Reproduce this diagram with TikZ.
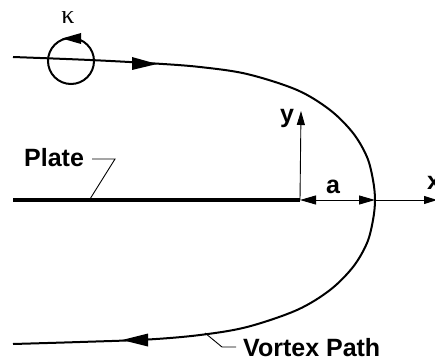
\documentclass[tikz,border=0pt]{standalone}
\usepackage{fontspec}
\setmainfont{Liberation Sans}
\newfontfamily\greekfont{Liberation Serif}
\usetikzlibrary{arrows.meta}
\begin{document}
\begin{tikzpicture}[x=1pt,y=-1pt,
  lbl/.style={font=\fontsize{25}{27}\selectfont\bfseries, inner sep=0pt, anchor=base west},
  pathline/.style={line width=2pt, line join=round},
  thinline/.style={line width=0.9pt},
  tip/.style={fill=black}]
\useasboundingbox (0,0) rectangle (435,358);
\clip (0,0) rectangle (435,358);
% vortex path
\draw[pathline] plot[smooth, tension=0.55] coordinates {
 (13,57) (90,60) (155,63.5) (200,67) (247,74) (297,90) (330,110) (353,133) (367,157) (373,180) (375,200)
 (373,220) (367,243) (353,267) (330,290) (297,310) (247,327) (200,335) (148,339.5) (80,342) (13,344)};
% arrows on path
\coordinate (ta) at (157,64);
\fill[tip] (ta) -- ++(-25,-7) -- ++(0,13) -- cycle;
\coordinate (ba) at (122,340);
\fill[tip] (ba) -- ++(26,-6.5) -- ++(0,13) -- cycle;
% vortex circle
\node[draw, circle, line width=2pt, minimum size=46pt, inner sep=0pt] (vortex) at (71,61) {};
\coordinate (ca) at (62,38.5);
\fill[tip] (ca) -- ++(19,-5.5) -- ++(0,11) -- cycle;
\node[font=\greekfont\fontsize{26}{28}\selectfont, inner sep=0pt] (kappa) at (68,18) {κ};
% plate
\coordinate (origin) at (300,200);
\coordinate (plateL) at (13,200);
\draw[line width=4.5pt] (plateL) -- (origin);
% axes
\coordinate (vertex) at (375,200);
\coordinate (xend) at (437,200);
\coordinate (yend) at (301,111);
\draw[thinline, -{Triangle[length=14pt,width=8pt]}] (origin) -- (yend);
\draw[thinline, -{Triangle[length=13pt,width=8pt]}] (vertex) -- (xend);
\draw[thinline, {Triangle[length=16pt,width=9pt]}-{Triangle[length=16pt,width=9pt]}] (origin) -- (vertex);
% labels
\node[lbl] (ylab) at (280,122) {y};
\node[lbl] (xlab) at (427,189) {x};
\node[lbl] (alab) at (326,193) {a};
\node[lbl] (platelab) at (24,166) {Plate};
\node[lbl] (vplab) at (243,356) {Vortex Path};
% leaders
\coordinate (pl1) at (92,159);
\coordinate (pl2) at (115,159);
\coordinate (pl3) at (90,199);
\draw[thinline] (pl1) -- (pl2) -- (pl3);
\coordinate (vl1) at (205,333);
\coordinate (vl2) at (222,347);
\coordinate (vl3) at (236,347);
\draw[thinline] (vl1) -- (vl2) -- (vl3);
\end{tikzpicture}
\end{document}
